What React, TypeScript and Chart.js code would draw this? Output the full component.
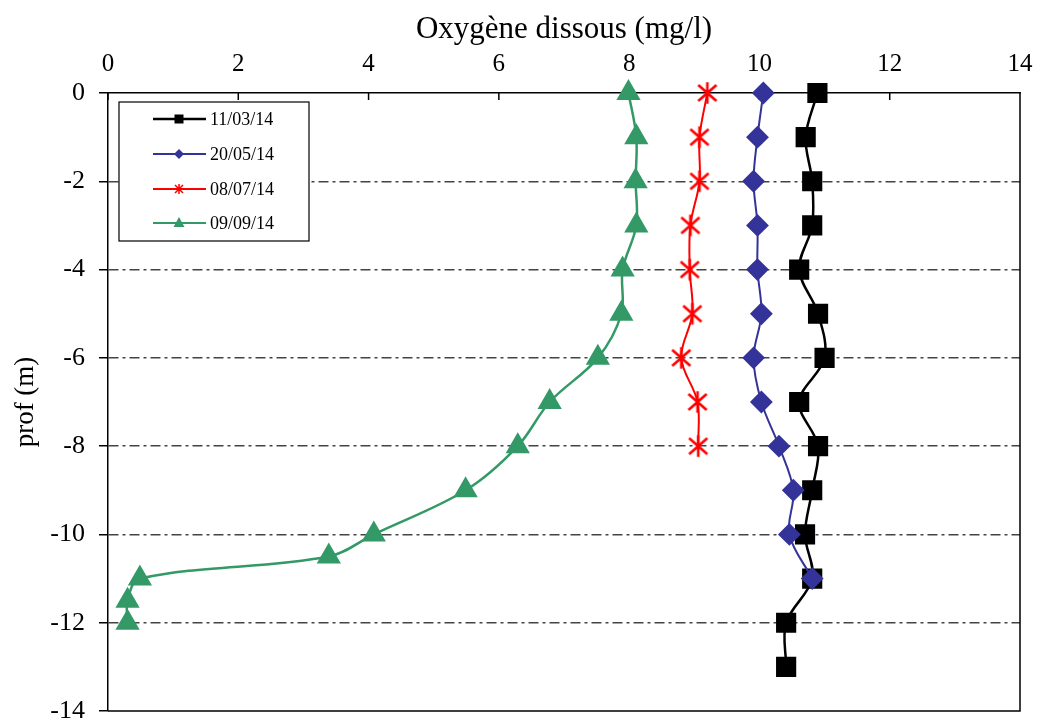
import React, { useEffect, useRef } from 'react';
import { Chart, registerables } from 'chart.js';

Chart.register(...registerables);

const FONT = "'Liberation Serif', 'Times New Roman', serif";

const seriesLabels = ['11/03/14', '20/05/14', '08/07/14', '09/09/14'];

const depth1103 = [0, -1, -2, -3, -4, -5, -6, -7, -8, -9, -10, -11, -12, -13];
const oxy1103 = [10.89, 10.71, 10.81, 10.81, 10.61, 10.9, 11.0, 10.61, 10.9, 10.81, 10.7, 10.81, 10.41, 10.41];

const depth2005 = [0, -1, -2, -3, -4, -5, -6, -7, -8, -9, -10, -11];
const oxy2005 = [10.06, 9.97, 9.91, 9.97, 9.97, 10.03, 9.91, 10.03, 10.3, 10.52, 10.46, 10.81];

const depth0807 = [0, -1, -2, -3, -4, -5, -6, -7, -8];
const oxy0807 = [9.2, 9.08, 9.08, 8.94, 8.93, 8.97, 8.8, 9.05, 9.06];

const depth0909 = [0, -1, -2, -3, -4, -5, -6, -7, -8, -9, -10, -10.5, -11, -11.5, -12];
const oxy0909 = [7.99, 8.11, 8.1, 8.11, 7.9, 7.88, 7.52, 6.78, 6.29, 5.49, 4.08, 3.39, 0.49, 0.3, 0.3];

const xTicks = [0, 2, 4, 6, 8, 10, 12, 14];
const yTicks = [0, -2, -4, -6, -8, -10, -12, -14];

const colors = ['#000000', '#333399', '#FF0000', '#339966'];

function makeStar(size: number, lw: number, color: string) {
  const c = document.createElement('canvas');
  c.width = size;
  c.height = size;
  const g = c.getContext('2d')!;
  const m = size / 2;
  const r = size / 2 - lw / 2;
  g.strokeStyle = color;
  g.lineWidth = lw;
  g.lineCap = 'butt';
  g.beginPath();
  g.moveTo(m - r * 0.85, m - r * 0.75);
  g.lineTo(m + r * 0.85, m + r * 0.75);
  g.moveTo(m + r * 0.85, m - r * 0.75);
  g.lineTo(m - r * 0.85, m + r * 0.75);
  g.moveTo(m, m - r);
  g.lineTo(m, m + r);
  g.stroke();
  return c;
}

function pts(xs: number[], ys: number[]) {
  return xs.map((x, i) => ({ x, y: ys[i] }));
}

function drawMarker(ctx: CanvasRenderingContext2D, kind: number, x: number, y: number, color: string) {
  ctx.save();
  ctx.fillStyle = color;
  ctx.strokeStyle = color;
  ctx.beginPath();
  if (kind === 0) {
    ctx.rect(x - 4.5, y - 4.5, 9, 9);
    ctx.fill();
  } else if (kind === 1) {
    ctx.moveTo(x, y - 5);
    ctx.lineTo(x + 5, y);
    ctx.lineTo(x, y + 5);
    ctx.lineTo(x - 5, y);
    ctx.closePath();
    ctx.fill();
  } else if (kind === 2) {
    ctx.lineWidth = 1.5;
    ctx.moveTo(x - 4, y - 4);
    ctx.lineTo(x + 4, y + 4);
    ctx.moveTo(x + 4, y - 4);
    ctx.lineTo(x - 4, y + 4);
    ctx.moveTo(x, y - 5);
    ctx.lineTo(x, y + 5);
    ctx.stroke();
  } else {
    ctx.moveTo(x, y - 6);
    ctx.lineTo(x + 5.5, y + 4);
    ctx.lineTo(x - 5.5, y + 4);
    ctx.closePath();
    ctx.fill();
  }
  ctx.restore();
}

const framePlugin = {
  id: 'frameAndLegend',
  beforeDatasetsDraw(chart: any) {
    const { ctx, chartArea: a, scales } = chart;
    ctx.save();
    ctx.strokeStyle = '#000';
    ctx.lineWidth = 1.5;
    ctx.beginPath();
    ctx.moveTo(a.right, a.top);
    ctx.lineTo(a.right, a.bottom);
    ctx.lineTo(a.left, a.bottom);
    const xs = scales.x;
    xs.ticks.forEach((t: any) => {
      const px = xs.getPixelForValue(t.value);
      ctx.moveTo(px, a.top);
      ctx.lineTo(px, a.top + 7);
    });
    ctx.stroke();
    ctx.restore();
  },
  afterDatasetsDraw(chart: any) {
    const { ctx, chartArea: a } = chart;
    const bx = a.left + 11;
    const by = a.top + 9;
    const bw = 190;
    const bh = 139;
    ctx.save();
    ctx.fillStyle = '#fff';
    ctx.fillRect(bx, by, bw, bh);
    ctx.strokeStyle = '#000';
    ctx.lineWidth = 1.2;
    ctx.strokeRect(bx, by, bw, bh);
    const rowY = [17, 52, 87, 121];
    ctx.font = `18px ${FONT}`;
    ctx.textBaseline = 'middle';
    ctx.textAlign = 'left';
    seriesLabels.forEach((lab, i) => {
      const y = by + rowY[i];
      ctx.strokeStyle = colors[i];
      ctx.lineWidth = i === 0 ? 2.5 : 2;
      ctx.beginPath();
      ctx.moveTo(bx + 34, y);
      ctx.lineTo(bx + 87, y);
      ctx.stroke();
      drawMarker(ctx, i, bx + 60, y, colors[i]);
      ctx.fillStyle = '#000';
      ctx.fillText(lab, bx + 91, y + 1);
    });
    ctx.restore();
  },
};

export default function App() {
  const ref = useRef<HTMLCanvasElement>(null);

  useEffect(() => {
    const star = makeStar(24, 2.6, '#FF0000');
    const chart = new Chart(ref.current!, {
      type: 'scatter',
      data: {
        datasets: [
          {
            label: seriesLabels[0],
            data: pts(oxy1103, depth1103),
            borderColor: colors[0],
            backgroundColor: colors[0],
            borderWidth: 2.5,
            pointStyle: 'rect',
            pointRadius: 12.5,
            showLine: true,
            tension: 0.35,
            order: 4,
            clip: false,
          },
          {
            label: seriesLabels[1],
            data: pts(oxy2005, depth2005),
            borderColor: colors[1],
            backgroundColor: colors[1],
            borderWidth: 2,
            pointStyle: 'rectRot',
            pointRadius: 10,
            showLine: true,
            tension: 0.35,
            order: 3,
            clip: false,
          },
          {
            label: seriesLabels[2],
            data: pts(oxy0807, depth0807),
            borderColor: colors[2],
            backgroundColor: colors[2],
            borderWidth: 2,
            pointStyle: star as any,
            pointRadius: 12,
            showLine: true,
            tension: 0.35,
            order: 2,
            clip: false,
          },
          {
            label: seriesLabels[3],
            data: pts(oxy0909, depth0909),
            borderColor: colors[3],
            backgroundColor: colors[3],
            borderWidth: 2.5,
            pointStyle: 'triangle',
            pointRadius: 11.5,
            showLine: true,
            tension: 0.35,
            order: 1,
            clip: false,
          },
        ],
      },
      options: {
        responsive: false,
        animation: false,
        devicePixelRatio: 1,
        layout: { padding: { left: 0, top: 0, right: 17, bottom: 0 } },
        plugins: {
          legend: { display: false },
          tooltip: { enabled: false },
        },
        scales: {
          x: {
            type: 'linear',
            position: 'top',
            min: 0,
            max: 14,
            afterBuildTicks: (s: any) => {
              s.ticks = xTicks.map((v) => ({ value: v }));
            },
            afterFit: (s: any) => {
              s.height = 93;
              s.paddingLeft = 0;
              s.paddingRight = 0;
            },
            grid: { display: true, drawOnChartArea: false, drawTicks: false },
            border: { display: true, color: '#000', width: 1.5 },
            ticks: {
              color: '#000',
              padding: 14,
              font: { family: FONT, size: 25 },
            },
            title: {
              display: true,
              text: 'Oxygène dissous (mg/l)',
              color: '#000',
              font: { family: FONT, size: 31 },
              padding: { top: 11, bottom: 0 },
            },
          },
          y: {
            type: 'linear',
            position: 'left',
            min: -14,
            max: 0,
            afterBuildTicks: (s: any) => {
              s.ticks = yTicks.map((v) => ({ value: v }));
            },
            afterFit: (s: any) => {
              s.width = 108;
              s.paddingTop = 0;
              s.paddingBottom = 0;
            },
            grid: {
              color: (c: any) => (c.tick && (c.tick.value === 0 || c.tick.value === -14) ? 'rgba(0,0,0,0)' : '#444'),
              lineWidth: 1.5,
              tickColor: '#000',
              tickLength: 9,
              tickWidth: 1.5,
              tickBorderDash: [],
            },
            border: { display: true, color: '#000', width: 1.5, dash: [10, 4, 3, 4] },
            ticks: {
              color: '#000',
              padding: 14,
              font: { family: FONT, size: 26 },
            },
            title: {
              display: true,
              text: 'prof (m)',
              color: '#000',
              font: { family: FONT, size: 27 },
              padding: { top: 10, bottom: 0 },
            },
          },
        },
      } as any,
      plugins: [framePlugin],
    });
    return () => chart.destroy();
  }, []);

  return (
    <div style={{ position: 'absolute', left: 0, top: 0, width: 1037, height: 720, overflow: 'hidden', background: '#fff' }}>
      <canvas ref={ref} width={1037} height={726} style={{ width: 1037, height: 726, display: 'block' }} />
    </div>
  );
}
